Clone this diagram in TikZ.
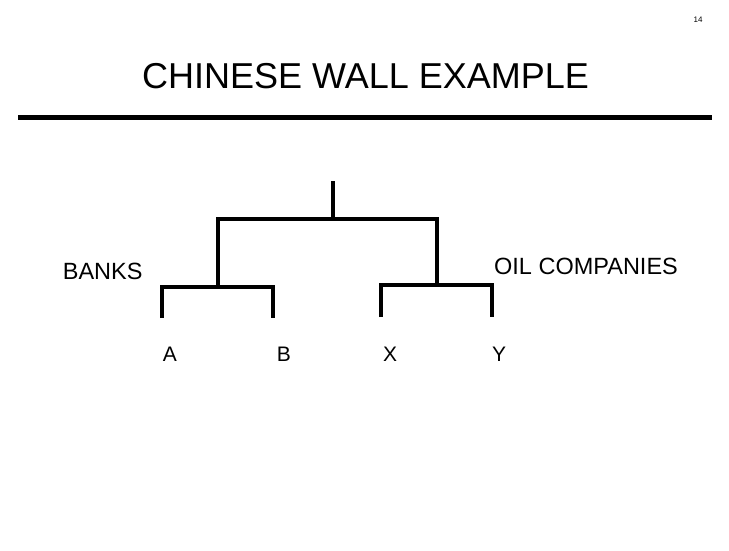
\documentclass[tikz,border=0pt]{standalone}
\usepackage{fontspec}
\setmainfont{Liberation Sans}
\begin{document}
\begin{tikzpicture}[x=1pt,y=-1pt,
  branch/.style={line width=4pt, line cap=butt},
  lbl/.style={inner sep=0pt, font=\fontsize{21}{24}\selectfont},
  grp/.style={inner sep=0pt, font=\fontsize{23.5}{26}\selectfont}]
\useasboundingbox (0,0) rectangle (729,551);
\node[inner sep=0pt, font=\fontsize{8}{9}\selectfont] (pg) at (698,20) {14};
\node[inner sep=0pt, font=\fontsize{36}{40}\selectfont] (title) at (365.5,76) {CHINESE WALL EXAMPLE};
\coordinate (r1) at (18,117.5);
\coordinate (r2) at (712,117.5);
\draw[line width=4.5pt] (r1) -- (r2);
% tree
\coordinate (root) at (333,181);
\coordinate (rj) at (333,219);
\coordinate (bl) at (218,219);
\coordinate (br) at (437,219);
\coordinate (bj) at (218,287);
\coordinate (oj) at (437,285);
\coordinate (a1) at (162,287);
\coordinate (b1) at (273,287);
\coordinate (a2) at (162,318);
\coordinate (b2) at (273,318);
\coordinate (x1) at (381,285);
\coordinate (y1) at (492,285);
\coordinate (x2) at (381,317);
\coordinate (y2) at (492,317);
\draw[branch] (root) -- (rj);
\draw[branch] (bj) -- (bl) -- (br) -- (oj);
\draw[branch] (a2) -- (a1) -- (b1) -- (b2);
\draw[branch] (x2) -- (x1) -- (y1) -- (y2);
\node[grp] (banks) at (102.7,271) {BANKS};
\node[grp] (oil) at (586,266) {OIL COMPANIES};
\node[lbl] (A) at (170,354) {A};
\node[lbl] (B) at (284,354) {B};
\node[lbl] (X) at (390,354) {X};
\node[lbl] (Y) at (499,354) {Y};
\end{tikzpicture}
\end{document}
